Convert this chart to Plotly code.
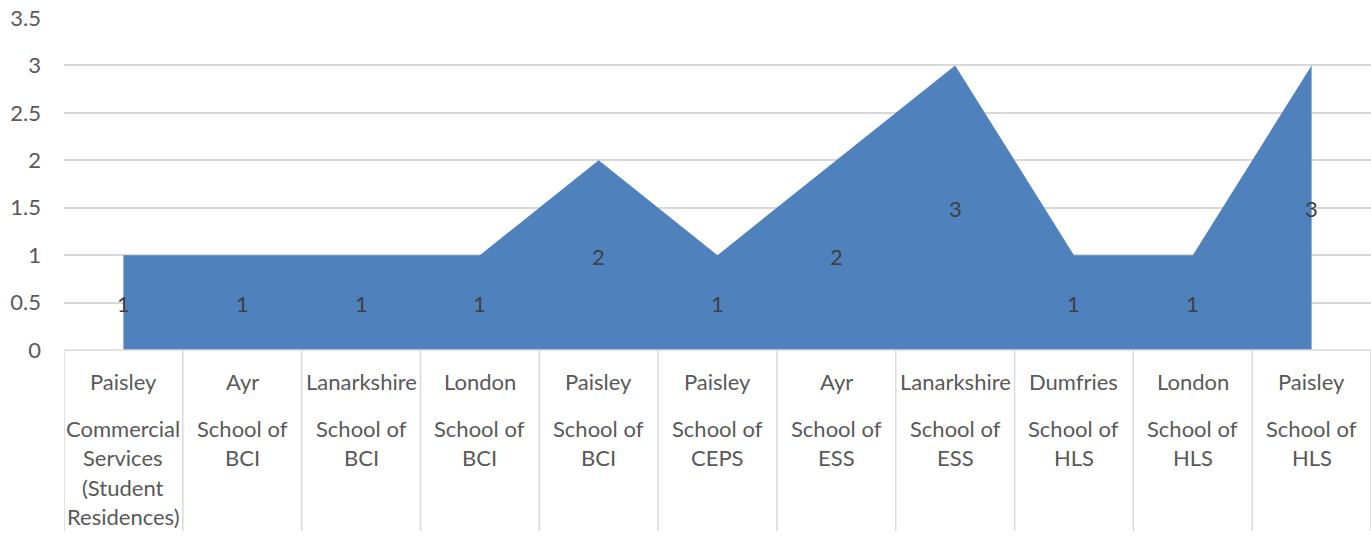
import plotly.graph_objects as go

locations = ["Paisley", "Ayr", "Lanarkshire", "London", "Paisley", "Paisley",
             "Ayr", "Lanarkshire", "Dumfries", "London", "Paisley"]
schools = [["Commercial", "Services", "(Student", "Residences)"],
           ["School of", "BCI"], ["School of", "BCI"], ["School of", "BCI"],
           ["School of", "BCI"], ["School of", "CEPS"], ["School of", "ESS"],
           ["School of", "ESS"], ["School of", "HLS"], ["School of", "HLS"],
           ["School of", "HLS"]]
values = [1, 1, 1, 1, 2, 1, 2, 3, 1, 1, 3]
y_ticks = [0, 0.5, 1, 1.5, 2, 2.5, 3, 3.5]
y_tick_text = ["0", "0.5", "1", "1.5", "2", "2.5", "3", "3.5"]

FONT = "Lato, Carlito, Calibri, sans-serif"
TXT = "#595959"
GRID = "#d9d9d9"
FILL = "#4F81BD"
FS = 22

xs = list(range(len(values)))
W, H = 1371, 543
L, R, T, B = 64, 0, 18, 193
plot_h = H - T - B

fig = go.Figure()
fig.add_trace(go.Scatter(x=xs, y=values, mode="lines", fill="tozeroy",
                         fillcolor=FILL, line=dict(color=FILL, width=0),
                         hoverinfo="skip", showlegend=False))

def py(pix):
    return (H - B - pix) / plot_h

annotations = []
# data labels (centered in the area, Excel style)
for x, v in zip(xs, values):
    annotations.append(dict(x=x, y=v / 2, xref="x", yref="y", text=str(v),
                            showarrow=False, yanchor="middle", yshift=-1,
                            font=dict(family=FONT, size=FS, color="#404040")))
for i, (loc, sch) in enumerate(zip(locations, schools)):
    annotations.append(dict(x=i, y=py(381), xref="x", yref="paper", text=loc,
                            showarrow=False, yanchor="middle",
                            font=dict(family=FONT, size=FS, color=TXT)))
    for j, line in enumerate(sch):
        annotations.append(dict(x=i, y=py(428.5 + 29.3 * j), xref="x", yref="paper",
                                text=line, showarrow=False, yanchor="middle",
                                font=dict(family=FONT, size=FS, color=TXT)))

shapes = []
for k in range(len(values) + 1):
    shapes.append(dict(type="line", xref="x", yref="paper", x0=k - 0.5, x1=k - 0.5,
                       y0=0, y1=py(531), line=dict(color=GRID, width=1.5), layer="below"))
shapes.append(dict(type="line", xref="paper", yref="paper", x0=0, x1=1, y0=0, y1=0,
                   line=dict(color=GRID, width=1.5), layer="above"))

fig.update_layout(
    width=W, height=H,
    margin=dict(l=L, r=R, t=T, b=B, autoexpand=False),
    paper_bgcolor="white", plot_bgcolor="white",
    xaxis=dict(range=[-0.5, len(values) - 0.5], showgrid=False, zeroline=False,
               showticklabels=False, showline=False, fixedrange=True, automargin=False),
    yaxis=dict(range=[0, 3.5], tickvals=y_ticks, ticktext=y_tick_text,
               showgrid=True, gridcolor=GRID, gridwidth=1.5, zeroline=False,
               showline=False, ticks="", ticklabelstandoff=22, automargin=False,
               tickfont=dict(family=FONT, size=FS, color=TXT), fixedrange=True),
    annotations=annotations, shapes=shapes,
    showlegend=False,
)
fig.write_html("out.html", config={"displayModeBar": False},
               post_script="document.body.style.margin='0';document.body.style.overflow='hidden';")
